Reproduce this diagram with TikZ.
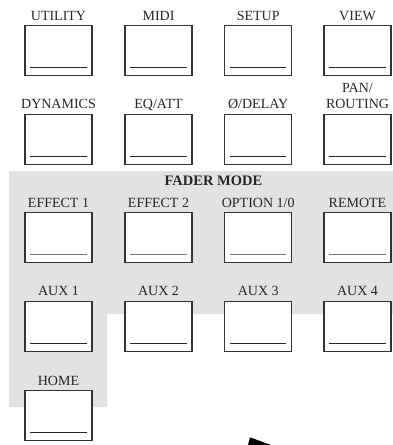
\documentclass[tikz,border=0pt]{standalone}
\usepackage{fontspec}
\setmainfont{Liberation Serif}
\definecolor{panelgray}{HTML}{E1E2E4}
\definecolor{boxedge}{HTML}{333333}
\definecolor{ulgray}{HTML}{777777}
\tikzset{
  btn/.style={draw=boxedge, line width=1.1pt, fill=white, minimum width=67pt, minimum height=50pt, inner sep=0pt},
  lbl/.style={font=\fontsize{14}{16}\selectfont, text=black!85, inner sep=0pt, anchor=base},
  ttl/.style={font=\fontsize{14.5}{16}\selectfont\bfseries, text=black!85, inner sep=0pt, anchor=base},
  uline/.style={line width=0.9pt, draw=black!85},
  ulineg/.style={line width=1.5pt, draw=ulgray}
}
\newcommand{\btnline}[2][uline]{\draw[#1] ([xshift=6pt,yshift=8.5pt]#2.south west) -- ([xshift=-6pt,yshift=8.5pt]#2.south east);}
\begin{document}
\begin{tikzpicture}[x=1pt,y=-1pt]
\useasboundingbox (0,0) rectangle (393,445);
% FADER MODE panel
\fill[panelgray] (9,171) -- (393,171) -- (393,314) -- (107,314) -- (107,407) -- (9,407) -- cycle;
\node[ttl] (fader) at (213.5,185) {FADER MODE};
% row 1
\node[btn] (utility) at (58.5,50.5) {};
\node[btn] (midi) at (158.5,50.5) {};
\node[btn] (setup) at (258.2,50.5) {};
\node[btn] (view) at (357.5,50.5) {};
% row 2
\node[btn] (dyn) at (58.5,139.2) {};
\node[btn] (eq) at (158.5,139.2) {};
\node[btn] (delay) at (258.2,139.2) {};
\node[btn] (pan) at (357.5,139.2) {};
% row 3
\node[btn] (eff1) at (58.5,237.3) {};
\node[btn] (eff2) at (158.5,237.3) {};
\node[btn] (opt) at (258.2,237.3) {};
\node[btn] (remote) at (357.5,237.3) {};
% row 4
\node[btn] (aux1) at (58.5,326.4) {};
\node[btn] (aux2) at (158.5,326.4) {};
\node[btn] (aux3) at (258.2,326.4) {};
\node[btn] (aux4) at (357.5,326.4) {};
% row 5
\node[btn] (home) at (58.5,415.5) {};
% underlines
\btnline{utility}\btnline{midi}\btnline{setup}\btnline{view}
\btnline{dyn}\btnline{eq}\btnline{delay}\btnline{pan}
\btnline[ulineg]{eff1}\btnline[ulineg]{eff2}\btnline[ulineg]{opt}\btnline[ulineg]{remote}
\btnline{aux1}\btnline{aux2}\btnline{aux3}\btnline{aux4}
\btnline{home}
% labels
\node[lbl] (lutility) at ([yshift=4.5pt]utility.north) {UTILITY};
\node[lbl] (lmidi) at ([yshift=4.5pt]midi.north) {MIDI};
\node[lbl] (lsetup) at ([yshift=4.5pt]setup.north) {SETUP};
\node[lbl] (lview) at ([yshift=4.5pt]view.north) {VIEW};
\node[lbl] (ldyn) at ([yshift=5pt]dyn.north) {DYNAMICS};
\node[lbl] (leq) at ([yshift=5pt]eq.north) {EQ/ATT};
\node[lbl] (ldelay) at ([yshift=5pt]delay.north) {Ø/DELAY};
\node[lbl] (lpan) at ([yshift=5pt]pan.north) {\begin{tabular}[b]{@{}c@{}}PAN/\\ROUTING\end{tabular}};
\node[lbl] (leff1) at ([yshift=4pt]eff1.north) {EFFECT 1};
\node[lbl] (leff2) at ([yshift=4pt]eff2.north) {EFFECT 2};
\node[lbl] (lopt) at ([yshift=4pt]opt.north) {OPTION 1/0};
\node[lbl] (lremote) at ([yshift=4pt]remote.north) {REMOTE};
\node[lbl] (laux1) at ([yshift=5pt]aux1.north) {AUX 1};
\node[lbl] (laux2) at ([yshift=5pt]aux2.north) {AUX 2};
\node[lbl] (laux3) at ([yshift=5pt]aux3.north) {AUX 3};
\node[lbl] (laux4) at ([yshift=5pt]aux4.north) {AUX 4};
\node[lbl] (lhome) at ([yshift=4pt]home.north) {HOME};
% pointer tip at bottom
\fill[black] (250,437.3) -- (271,445) -- (248,445) -- cycle;
\end{tikzpicture}
\end{document}
